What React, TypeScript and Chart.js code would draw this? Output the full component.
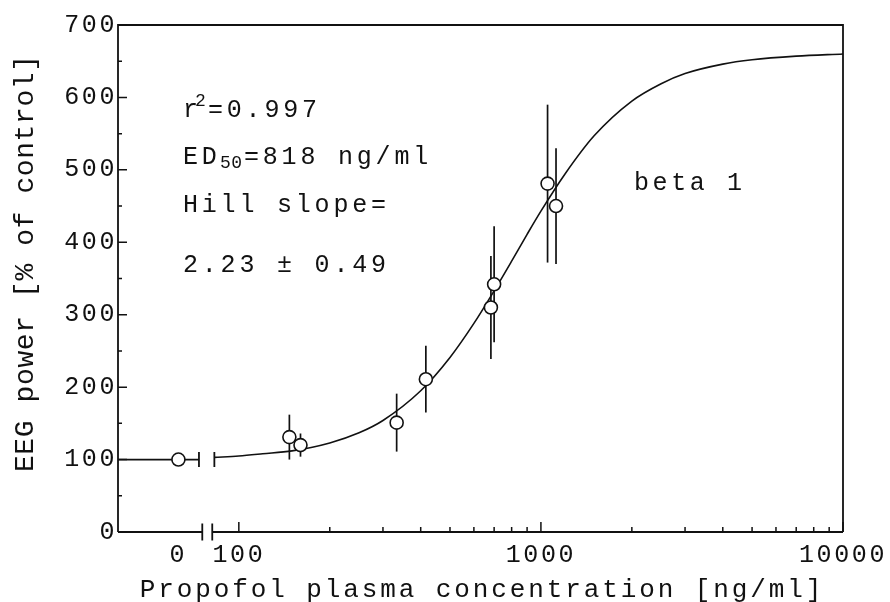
import React, { useEffect, useRef } from 'react';
import { Chart, registerables } from 'chart.js';

Chart.register(...registerables);

// ---------------- data ----------------
const X_TICK_CONC = [0, 100, 1000, 10000];
const X_TICK_LABELS = ['0', '100', '1000', '10000'];
const X_MINOR_CONC = [200, 300, 400, 500, 600, 700, 800, 900, 2000, 3000, 4000, 5000, 6000, 7000, 8000, 9000];
const Y_MAJOR = [0, 100, 200, 300, 400, 500, 600, 700];
const Y_MINOR = [50, 150, 250, 350, 450, 550, 650];

// measured points: concentration [ng/ml], EEG power [% of control], error (+/-)
const POINT_CONC = [0, 147, 160, 333, 416, 683, 700, 1052, 1122];
const POINT_MEAN = [100, 131, 120, 151, 211, 310, 342, 481, 450];
const POINT_ERR = [0, 31, 16, 40, 46, 71, 80, 109, 80];

// fitted sigmoid curve
const CONTROL_LEVEL = 100;
const CURVE_CONC = [83, 100, 120, 150, 200, 250, 300, 400, 500, 600, 700, 800, 900, 1000, 1200, 1500, 2000, 2500, 3000, 4000, 5000, 7000, 10000];
const CURVE_VALUE = [103, 105, 108, 112, 123, 137, 154, 195, 241, 288, 333, 374, 411, 443, 494, 547, 595, 619, 633, 646, 652, 657, 660];

const X_TITLE = 'Propofol plasma concentration [ng/ml]';
const Y_TITLE = 'EEG power [% of control]';
const SERIES_LABEL = 'beta 1';

// ---------------- axis layout (log10 units) ----------------
const X_AXIS_MIN = 1.6;
const X_AXIS_MAX = 4;
const ZERO_POS = 1.8; // where concentration 0 sits, left of the axis break
const AXIS_BREAK = [1.879, 1.912];
const CURVE_BREAK = [1.868, 1.919];

const xPos = (c: number) => (c === 0 ? ZERO_POS : Math.log10(c));

const FONT = '"Liberation Mono", "DejaVu Sans Mono", monospace';
const INK = '#111';

function drawText(ctx: CanvasRenderingContext2D, s: string, x: number, y: number, size: number, spacing: number) {
  ctx.font = `${size}px ${FONT}`;
  (ctx as any).letterSpacing = `${spacing}px`;
  ctx.fillText(s, x, y);
}

const decorPlugin = {
  id: 'decor',
  beforeDraw(chart: any) {
    (chart.ctx as any).letterSpacing = '2.6px';
  },
  beforeDatasetsDraw(chart: any) {
    const { ctx, scales } = chart;
    const xs = scales.x, ys = scales.y;
    ctx.save();
    ctx.strokeStyle = INK;
    ctx.lineWidth = 1.7;
    POINT_CONC.forEach((c, i) => {
      const e = POINT_ERR[i];
      if (!e) return;
      const px = xs.getPixelForValue(xPos(c));
      ctx.beginPath();
      ctx.moveTo(px, ys.getPixelForValue(POINT_MEAN[i] - e));
      ctx.lineTo(px, ys.getPixelForValue(POINT_MEAN[i] + e));
      ctx.stroke();
    });
    ctx.restore();
  },
  afterDraw(chart: any) {
    const { ctx, scales, chartArea: a } = chart;
    const xs = scales.x, ys = scales.y;
    ctx.save();
    ctx.strokeStyle = INK;
    ctx.fillStyle = INK;
    ctx.lineWidth = 1.8;
    ctx.lineCap = 'butt';

    // frame
    const b0 = xs.getPixelForValue(AXIS_BREAK[0]);
    const b1 = xs.getPixelForValue(AXIS_BREAK[1]);
    ctx.beginPath();
    ctx.moveTo(a.left, a.bottom);
    ctx.lineTo(a.left, a.top);
    ctx.lineTo(a.right, a.top);
    ctx.lineTo(a.right, a.bottom);
    ctx.moveTo(a.left, a.bottom);
    ctx.lineTo(b0, a.bottom);
    ctx.moveTo(b1, a.bottom);
    ctx.lineTo(a.right, a.bottom);
    // axis break marks
    [b0, b1].forEach((bx) => {
      ctx.moveTo(bx, a.bottom - 8.5);
      ctx.lineTo(bx, a.bottom + 8.5);
    });
    // curve break marks
    const cy = ys.getPixelForValue(CONTROL_LEVEL);
    CURVE_BREAK.forEach((v) => {
      const bx = xs.getPixelForValue(v);
      ctx.moveTo(bx, cy - 7.5);
      ctx.lineTo(bx, cy + 7.5);
    });
    ctx.stroke();

    // y ticks (inward)
    ctx.lineWidth = 1.5;
    ctx.beginPath();
    Y_MAJOR.forEach((v) => {
      const py = ys.getPixelForValue(v);
      ctx.moveTo(a.left, py);
      ctx.lineTo(a.left + 9, py);
    });
    Y_MINOR.forEach((v) => {
      const py = ys.getPixelForValue(v);
      ctx.moveTo(a.left, py);
      ctx.lineTo(a.left + 4, py);
    });
    // x ticks (inward)
    X_TICK_CONC.filter((c) => c > 0).forEach((c) => {
      const px = xs.getPixelForValue(xPos(c));
      ctx.moveTo(px, a.bottom);
      ctx.lineTo(px, a.bottom - 10);
    });
    X_MINOR_CONC.forEach((c) => {
      const px = xs.getPixelForValue(xPos(c));
      ctx.moveTo(px, a.bottom);
      ctx.lineTo(px, a.bottom - 5);
    });
    ctx.stroke();

    // annotations
    ctx.textAlign = 'left';
    ctx.textBaseline = 'alphabetic';
    const tx = a.left + 65;
    drawText(ctx, 'r', tx, 117, 25, 3.8);
    drawText(ctx, '2', tx + 12, 106, 18, 1);
    drawText(ctx, '=0.997', tx + 25, 117, 25, 3.8);
    drawText(ctx, 'ED', tx, 163.5, 25, 3.8);
    drawText(ctx, '50', tx + 37, 168, 18, 0.5);
    drawText(ctx, '=818 ng/ml', tx + 61, 163.5, 25, 3.8);
    drawText(ctx, 'Hill slope=', tx, 212, 25, 3.8);
    drawText(ctx, '2.23 \u00b1 0.49', tx, 272, 25, 3.8);
    drawText(ctx, SERIES_LABEL, 634, 190, 25, 3.6);

    // x title
    ctx.font = `26px ${FONT}`;
    (ctx as any).letterSpacing = '2.9px';
    let w = ctx.measureText(X_TITLE).width - 2.9;
    ctx.fillText(X_TITLE, (a.left + a.right) / 2 - w / 2, 597);

    // y title
    ctx.save();
    ctx.translate(33, 263.5);
    ctx.rotate(-Math.PI / 2);
    ctx.font = `28px ${FONT}`;
    (ctx as any).letterSpacing = '0.6px';
    w = ctx.measureText(Y_TITLE).width - 0.6;
    ctx.fillText(Y_TITLE, -w / 2, 0);
    ctx.restore();

    ctx.restore();
  },
};

export default function App() {
  const ref = useRef<HTMLCanvasElement>(null);
  useEffect(() => {
    if (!ref.current) return;
    const chart = new Chart(ref.current, {
      type: 'line',
      data: {
        datasets: [
          {
            label: 'measured',
            data: POINT_CONC.map((c, i) => ({ x: xPos(c), y: POINT_MEAN[i] })),
            showLine: false,
            pointRadius: 6.5,
            pointBorderWidth: 1.6,
            pointBorderColor: INK,
            pointBackgroundColor: '#fff',
          },
          {
            label: 'control',
            data: [
              { x: X_AXIS_MIN, y: CONTROL_LEVEL },
              { x: CURVE_BREAK[0], y: CONTROL_LEVEL },
            ],
            borderColor: INK,
            borderWidth: 1.7,
            pointRadius: 0,
          },
          {
            label: 'fit',
            data: CURVE_CONC.map((c, i) => ({ x: xPos(c), y: CURVE_VALUE[i] })),
            borderColor: INK,
            borderWidth: 1.6,
            pointRadius: 0,
            cubicInterpolationMode: 'monotone',
          },
        ],
      },
      options: {
        animation: false,
        responsive: false,
        devicePixelRatio: 1,
        layout: { padding: { left: 8, right: 47, top: 25, bottom: 0 } },
        plugins: { legend: { display: false }, tooltip: { enabled: false }, title: { display: false } },
        scales: {
          x: {
            type: 'linear',
            min: X_AXIS_MIN,
            max: X_AXIS_MAX,
            grid: { display: false, drawTicks: false },
            border: { display: false },
            afterBuildTicks: (scale: any) => {
              scale.ticks = X_TICK_CONC.map((c) => ({ value: xPos(c) }));
            },
            afterFit: (scale: any) => {
              scale.height = 70;
              scale.paddingLeft = 0;
              scale.paddingRight = 0;
            },
            ticks: {
              autoSkip: false,
              maxRotation: 0,
              padding: 8,
              color: INK,
              font: { family: FONT, size: 25 },
              callback: (_v: any, i: number) => X_TICK_LABELS[i],
            },
          },
          y: {
            type: 'linear',
            min: 0,
            max: 700,
            grid: { display: false, drawTicks: false },
            border: { display: false },
            afterBuildTicks: (scale: any) => {
              scale.ticks = Y_MAJOR.map((v) => ({ value: v }));
            },
            afterFit: (scale: any) => {
              scale.width = 110;
              scale.paddingTop = 0;
              scale.paddingBottom = 0;
            },
            ticks: {
              padding: 1,
              color: INK,
              font: { family: FONT, size: 25 },
            },
          },
        },
      },
      plugins: [decorPlugin],
    } as any);
    return () => chart.destroy();
  }, []);
  return (
    <div style={{ position: 'fixed', left: 0, top: 0, width: 890, height: 602, background: '#fff' }}>
      <canvas ref={ref} width={890} height={602} style={{ display: 'block' }} />
    </div>
  );
}
